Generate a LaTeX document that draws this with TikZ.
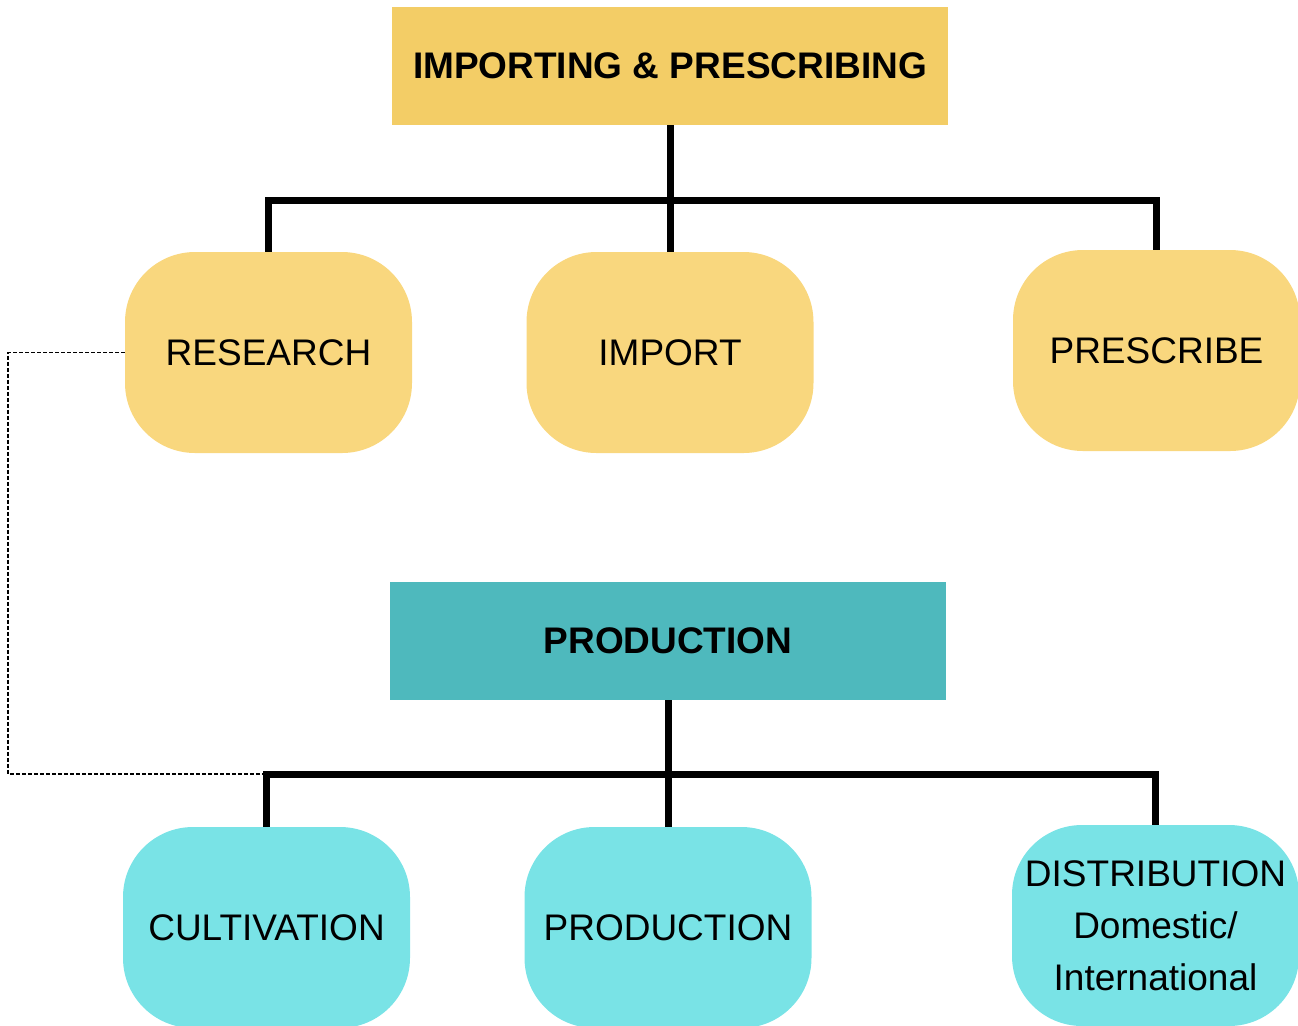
\documentclass[tikz,border=0pt]{standalone}
\usepackage{fontspec}
\setmainfont{Liberation Sans}
\usepackage{xcolor}
\usetikzlibrary{calc}
\definecolor{headgold}{HTML}{F3CD66}
\definecolor{boxgold}{HTML}{F9D77E}
\definecolor{headteal}{HTML}{4EB9BD}
\definecolor{boxcyan}{HTML}{79E3E6}
\tikzset{
  head/.style={rectangle, minimum width=278pt, minimum height=59pt, inner sep=0pt, font=\fontsize{18.5}{22}\selectfont\bfseries},
  unit/.style={rectangle, rounded corners=35pt, minimum width=143.5pt, minimum height=100.5pt, inner sep=0pt, align=center, font=\fontsize{18.5}{26}\selectfont},
  conn/.style={draw=black, line width=3.5pt},
  link/.style={draw=black, dash pattern=on 2pt off 1pt, line width=0.75pt},
}
\begin{document}
\begin{tikzpicture}[x=0.5pt, y=-0.5pt]
  \useasboundingbox (0,0) rectangle (1298,1025);
  \coordinate (bar1) at (670,200);
  \coordinate (bar2) at (668,774);
  \coordinate (dl) at (8,774);

  % importing & prescribing
  \node[head, fill=headgold] (imp) at (670,66) {IMPORTING \& PRESCRIBING};
  \node[unit, fill=boxgold] (research) at (268.5,352.5) {RESEARCH};
  \node[unit, fill=boxgold] (import) at (670,352.5) {IMPORT};
  \node[unit, fill=boxgold] (prescribe) at (1156.5,350.5) {PRESCRIBE};

  % production
  \node[head, fill=headteal] (prod) at (668,641) {PRODUCTION};
  \node[unit, fill=boxcyan] (cultivation) at (266.5,927.5) {CULTIVATION};
  \node[unit, fill=boxcyan] (production) at (668,927.5) {PRODUCTION};
  \node[unit, fill=boxcyan] (distribution) at (1155.5,925.5) {DISTRIBUTION\\Domestic/\\International};

  \draw[conn] (imp.south) -- (import.north);
  \draw[conn] (research.north) -- (research.north |- bar1) -- (prescribe.north |- bar1) -- (prescribe.north);
  \draw[conn] (prod.south) -- (production.north);
  \draw[conn] (cultivation.north) -- (cultivation.north |- bar2) -- (distribution.north |- bar2) -- (distribution.north);
  \draw[link] (research.west) -- (research.west -| dl) -- (dl) -- ($(cultivation.north |- bar2)+(-3.5,0)$);
\end{tikzpicture}
\end{document}
